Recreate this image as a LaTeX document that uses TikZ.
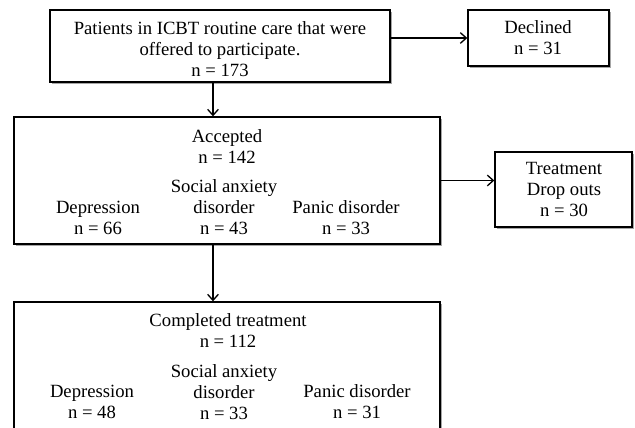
\documentclass[tikz,border=0pt]{standalone}
\usepackage{fontspec}
\setmainfont{Liberation Serif}
\usetikzlibrary{arrows.meta,fit,shadows}
\tikzset{
    flowbox/.style = {
        draw,
        line width=1pt,
        fill=white,
        inner sep=0pt,
        drop shadow={shadow xshift=1.6pt, shadow yshift=-1.6pt, fill=gray, opacity=0.7},
        },
    boxtext/.style = {
        align=center,
        inner sep=0pt,
        font=\fontsize{14}{15.75}\selectfont,
        },
    flow/.style = {
        -{Straight Barb[length=4.5pt, width=8pt]},
        line width=1pt,
        },
}
\begin{document}
\begin{tikzpicture}[x=0.75pt, y=-0.75pt]
    \useasboundingbox (0,0) rectangle (635,428);
    \clip (0,0) rectangle (635,428);

    % boxes
    \node[flowbox, fit={(50,10) (390,82)}] (offered) {};
    \node[flowbox, fit={(468,10) (609,66)}] (declined) {};
    \node[flowbox, fit={(14,117) (440,244)}] (accepted) {};
    \node[flowbox, fit={(495,152) (632,227)}] (dropout) {};
    \node[flowbox, fit={(14,302) (440,445)}] (completed) {};

    % texts
    \node[boxtext] (offeredtxt) at (220,49) {Patients in ICBT routine care that were\\offered to participate.\\n = 173};
    \node[boxtext] (declinedtxt) at (538,38) {Declined\\n = 31};
    \node[boxtext] (dropouttxt) at (564,189) {Treatment\\Drop outs\\n = 30};

    \node[boxtext] (acctitle) at (227,147) {Accepted\\n = 142};
    \node[boxtext] (accdep) at (98,218) {Depression\\n = 66};
    \node[boxtext] (accsoc) at (224,207) {Social anxiety\\disorder\\n = 43};
    \node[boxtext] (accpan) at (346,218) {Panic disorder\\n = 33};

    \node[boxtext] (comtitle) at (228,331) {Completed treatment\\n = 112};
    \node[boxtext] (comdep) at (92,402) {Depression\\n = 48};
    \node[boxtext] (comsoc) at (224,392) {Social anxiety\\disorder\\n = 33};
    \node[boxtext] (compan) at (357,402) {Panic disorder\\n = 31};

    % connectors
    \coordinate (split) at (213,0);
    \draw[flow] (offered.east |- declined.west) -- (declined.west);
    \draw[flow] (offered.south -| split) -- (accepted.north -| split);
    \draw[flow] (accepted.east) -- (accepted.east -| dropout.west);
    \draw[flow] (accepted.south -| split) -- (completed.north -| split);
\end{tikzpicture}
\end{document}
